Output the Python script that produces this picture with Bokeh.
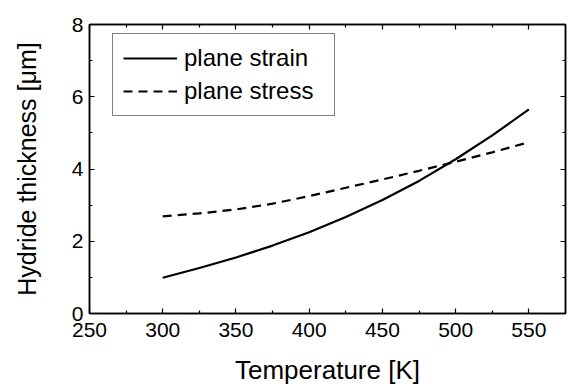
from bokeh.plotting import figure
from bokeh.models import Range1d, FixedTicker, LinearAxis, Legend, LegendItem
from bokeh.embed import file_html
from bokeh.resources import INLINE

temperature = [300, 325, 350, 375, 400, 425, 450, 475, 500, 525, 550]
plane_strain = [0.99, 1.26, 1.55, 1.88, 2.25, 2.67, 3.14, 3.67, 4.27, 4.93, 5.65]
plane_stress = [2.69, 2.77, 2.88, 3.04, 3.25, 3.48, 3.71, 3.95, 4.20, 4.46, 4.74]

x_ticks = [250, 300, 350, 400, 450, 500, 550]
x_minor = [275, 325, 375, 425, 475, 525]
y_ticks = [0, 2, 4, 6, 8]
y_minor = [1, 3, 5, 7]

FONT = "Liberation Sans"

p = figure(width=567, height=388, output_backend="svg", toolbar_location=None,
           x_range=Range1d(250, 575), y_range=Range1d(0, 8),
           min_border_left=89, min_border_top=24, min_border_right=2, min_border_bottom=75)
p.frame_width = 476
p.frame_height = 289
p.grid.visible = False
p.outline_line_color = "black"
p.outline_line_width = 1.5
p.background_fill_color = "white"
p.border_fill_color = "white"

r1 = p.line(temperature, plane_strain, line_color="black", line_width=2.2)
r2 = p.line(temperature, plane_stress, line_color="black", line_width=2.2, line_dash="9 6")

def style(ax, labels=True):
    ax.major_tick_in = 5
    ax.major_tick_out = 0
    ax.minor_tick_in = 3
    ax.minor_tick_out = 0
    ax.axis_line_color = "black"
    ax.axis_line_width = 1.5
    ax.major_tick_line_width = 1.2
    ax.minor_tick_line_width = 1.2
    if labels:
        ax.major_label_text_font = FONT
        ax.major_label_text_font_size = "21px"
        ax.major_label_text_color = "black"
        ax.axis_label_text_font = FONT
        ax.axis_label_text_font_size = "25px"
        ax.axis_label_text_font_style = "normal"
        ax.axis_label_text_color = "black"
    else:
        ax.major_label_text_font_size = "1px"
        ax.major_label_text_color = None
        ax.major_label_standoff = 0

xt = FixedTicker(ticks=x_ticks, minor_ticks=x_minor)
yt = FixedTicker(ticks=y_ticks, minor_ticks=y_minor)

p.xaxis.ticker = xt
p.yaxis.ticker = yt
p.xaxis.axis_label = "Temperature [K]"
p.yaxis.axis_label = "Hydride thickness [μm]"
for ax in p.xaxis + p.yaxis:
    style(ax)
p.xaxis.major_label_standoff = 9
p.yaxis.major_label_standoff = 6
p.xaxis.axis_label_standoff = 15
p.yaxis.axis_label_standoff = 28
p.xaxis.axis_label_text_font_size = "26px"

top = LinearAxis(ticker=FixedTicker(ticks=x_ticks, minor_ticks=x_minor))
style(top, labels=False)
p.add_layout(top, "above")
right = LinearAxis(ticker=FixedTicker(ticks=y_ticks, minor_ticks=y_minor))
style(right, labels=False)
p.add_layout(right, "right")

legend = Legend(items=[LegendItem(label="plane strain", renderers=[r1]),
                       LegendItem(label="plane stress", renderers=[r2])],
                location=(23, 197))
legend.label_text_font = FONT
legend.label_text_font_size = "24px"
legend.label_text_color = "black"
legend.border_line_color = "black"
legend.border_line_width = 1
legend.padding = 10
legend.spacing = 5
legend.glyph_width = 54
legend.glyph_height = 20
legend.label_height = 20
legend.label_width = 140
legend.label_standoff = 7
legend.margin = 0
legend.background_fill_alpha = 1
p.add_layout(legend, "center")

open("out.html", "w").write(file_html(p, INLINE))
